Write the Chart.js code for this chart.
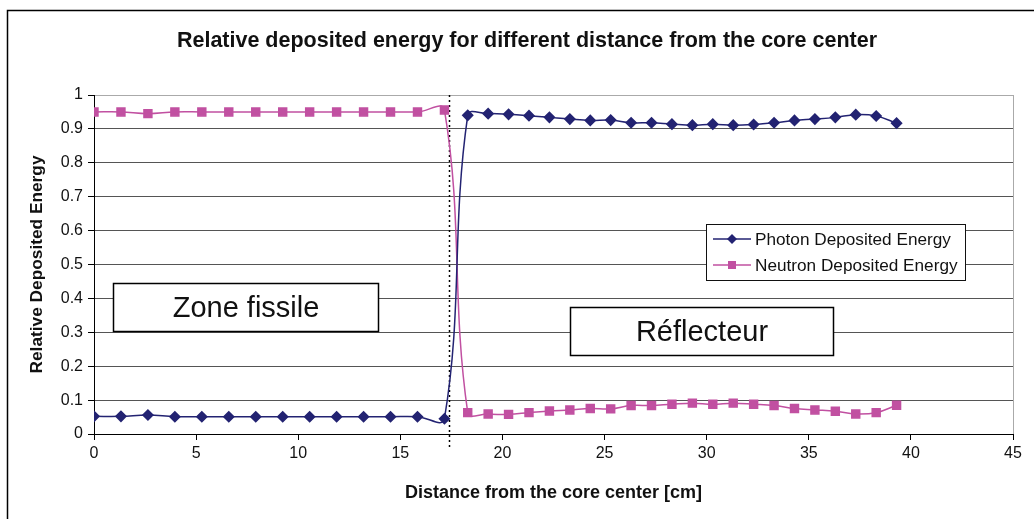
<!DOCTYPE html>
<html>
<head>
<meta charset="utf-8">
<script src="https://cdn.jsdelivr.net/npm/chart.js@4/dist/chart.umd.min.js"></script>
<style>
  html, body { margin: 0; padding: 0; background: #fff; }
  #wrap { width: 1034px; height: 519px; }
</style>
</head>
<body>
<div id="wrap"><canvas id="energyChart" width="1034" height="519"></canvas></div>
<script>
// distance from the core center [cm]
const distance = [
  0, 1.32, 2.64, 3.96, 5.28, 6.6, 7.92, 9.24, 10.56, 11.88, 13.2, 14.52, 15.84, 17.16,
  18.3, 19.3, 20.3, 21.3, 22.3, 23.3, 24.3, 25.3, 26.3, 27.3, 28.3, 29.3, 30.3,
  31.3, 32.3, 33.3, 34.3, 35.3, 36.3, 37.3, 38.3, 39.3,
];
const photonEnergy = [
  0.052, 0.052, 0.056, 0.051, 0.051, 0.051, 0.051, 0.051, 0.051, 0.051, 0.051, 0.051, 0.051, 0.045,
  0.94, 0.945, 0.943, 0.939, 0.934, 0.929, 0.925, 0.926, 0.918, 0.918, 0.914, 0.911, 0.914,
  0.911, 0.913, 0.918, 0.925, 0.929, 0.934, 0.942, 0.938, 0.917,
];
const neutronEnergy = [
  0.95, 0.95, 0.945, 0.95, 0.95, 0.95, 0.95, 0.95, 0.95, 0.95, 0.95, 0.95, 0.95, 0.956,
  0.063, 0.059, 0.058, 0.063, 0.068, 0.071, 0.075, 0.074, 0.084, 0.084, 0.088, 0.091, 0.088,
  0.091, 0.088, 0.084, 0.075, 0.071, 0.067, 0.059, 0.063, 0.085,
];
const seriesLabels = ['Photon Deposited Energy', 'Neutron Deposited Energy'];
const xTicks = [0, 5, 10, 15, 20, 25, 30, 35, 40, 45];
const yTicks = [0, 0.1, 0.2, 0.3, 0.4, 0.5, 0.6, 0.7, 0.8, 0.9, 1];
const coreBoundary = 17.4;
const chartTitle = 'Relative deposited energy for different distance from the core center';

const FONT = '"Liberation Sans", Arial, sans-serif';
const PHOTON = '#232372';
const NEUTRON = '#c150a1';

const toPoints = (values) => distance.map((x, i) => ({ x, y: values[i] }));

// outer frame, title, dotted core limit, region labels and legend box
const decorations = {
  id: 'decorations',
  beforeDraw(chart) {
    const { ctx } = chart;
    ctx.save();
    ctx.strokeStyle = '#000';
    ctx.lineWidth = 1.5;
    ctx.beginPath();
    ctx.moveTo(7.5, 530);
    ctx.lineTo(7.5, 10.5);
    ctx.lineTo(1040, 10.5);
    ctx.stroke();
    ctx.fillStyle = '#111';
    ctx.font = 'bold 21.5px ' + FONT;
    ctx.textAlign = 'center';
    ctx.textBaseline = 'middle';
    ctx.fillText(chartTitle, 527, 41);
    ctx.restore();
  },
  beforeDatasetsDraw(chart) {
    const { ctx, chartArea, scales } = chart;
    ctx.save();
    // right edge of plot area
    ctx.strokeStyle = '#aaaaaa';
    ctx.lineWidth = 1;
    ctx.beginPath();
    ctx.moveTo(chartArea.right + 0.5, chartArea.top);
    ctx.lineTo(chartArea.right + 0.5, chartArea.bottom);
    ctx.stroke();
    // dotted boundary
    const bx = Math.round(scales.x.getPixelForValue(coreBoundary)) + 0.5;
    ctx.strokeStyle = '#000';
    ctx.lineWidth = 1.5;
    ctx.setLineDash([2, 3]);
    ctx.beginPath();
    ctx.moveTo(bx, chartArea.top);
    ctx.lineTo(bx, chartArea.bottom + 13);
    ctx.stroke();
    ctx.restore();
  },
  afterDatasetsDraw(chart) {
    const { ctx, scales } = chart;
    const sx = scales.x, sy = scales.y;

    const textBox = (x0, y0, x1, y1, text) => {
      const l = Math.round(sx.getPixelForValue(x0)) + 0.5;
      const r = Math.round(sx.getPixelForValue(x1)) + 0.5;
      const t = Math.round(sy.getPixelForValue(y0)) + 0.5;
      const b = Math.round(sy.getPixelForValue(y1)) + 0.5;
      ctx.fillStyle = '#fff';
      ctx.fillRect(l, t, r - l, b - t);
      ctx.strokeStyle = '#000';
      ctx.lineWidth = 1.5;
      ctx.strokeRect(l, t, r - l, b - t);
      ctx.fillStyle = '#111';
      ctx.font = '29px ' + FONT;
      ctx.textAlign = 'center';
      ctx.textBaseline = 'middle';
      ctx.fillText(text, (l + r) / 2, (t + b) / 2 + 1);
    };

    ctx.save();
    textBox(0.93, 0.445, 13.9, 0.304, 'Zone fissile');
    textBox(23.3, 0.375, 36.17, 0.233, 'Réflecteur');

    // legend
    const lx = 706.5, ly = 224.5, lw = 259, lh = 56;
    ctx.fillStyle = '#fff';
    ctx.fillRect(lx, ly, lw, lh);
    ctx.strokeStyle = '#111';
    ctx.lineWidth = 1;
    ctx.strokeRect(lx, ly, lw, lh);
    chart.data.datasets.forEach((ds, i) => {
      const cy = 239 + i * 26;
      ctx.strokeStyle = ds.borderColor;
      ctx.lineWidth = 1.5;
      ctx.beginPath();
      ctx.moveTo(713, cy);
      ctx.lineTo(751, cy);
      ctx.stroke();
      ctx.fillStyle = ds.backgroundColor;
      ctx.beginPath();
      if (ds.pointStyle === 'rect') {
        ctx.rect(728, cy - 4, 8, 8);
      } else {
        ctx.moveTo(732, cy - 5);
        ctx.lineTo(737, cy);
        ctx.lineTo(732, cy + 5);
        ctx.lineTo(727, cy);
        ctx.closePath();
      }
      ctx.fill();
      ctx.fillStyle = '#111';
      ctx.font = '17.2px ' + FONT;
      ctx.textAlign = 'left';
      ctx.textBaseline = 'middle';
      ctx.fillText(ds.label, 755, cy + 1);
    });
    ctx.restore();
  },
};

const ctx = document.getElementById('energyChart').getContext('2d');
new Chart(ctx, {
  type: 'line',
  data: {
    datasets: [
      {
        label: seriesLabels[0],
        data: toPoints(photonEnergy),
        borderColor: PHOTON,
        backgroundColor: PHOTON,
        borderWidth: 1.5,
        pointStyle: 'rectRot',
        pointRadius: 5,
        tension: 0.4,
      },
      {
        label: seriesLabels[1],
        data: toPoints(neutronEnergy),
        borderColor: NEUTRON,
        backgroundColor: NEUTRON,
        borderWidth: 1.5,
        pointStyle: 'rect',
        pointRadius: 5.6,
        tension: 0.4,
      },
    ],
  },
  options: {
    responsive: false,
    animation: false,
    layout: { padding: { top: 95, left: 10, right: 21, bottom: 0 } },
    scales: {
      x: {
        type: 'linear',
        min: 0,
        max: 45,
        afterBuildTicks: (scale) => { scale.ticks = xTicks.map((v) => ({ value: v })); },
        afterFit: (scale) => { scale.height = 85; },
        grid: { drawOnChartArea: false, tickLength: 6, tickColor: '#000' },
        border: { color: '#000', width: 1 },
        ticks: { color: '#111', font: { family: FONT, size: 16 }, padding: 4, maxRotation: 0 },
        title: {
          display: true,
          text: 'Distance from the core center [cm]',
          color: '#111',
          font: { family: FONT, size: 18, weight: 'bold' },
          padding: { top: 0, bottom: 15 },
        },
      },
      y: {
        min: 0,
        max: 1,
        afterBuildTicks: (scale) => { scale.ticks = yTicks.map((v) => ({ value: v })); },
        afterFit: (scale) => { scale.width = 84; },
        grid: {
          color: (c) => (c.tick && c.tick.value === 1 ? '#aaaaaa' : '#555555'),
          tickColor: '#000',
          tickLength: 6,
        },
        border: { color: '#000', width: 1 },
        ticks: {
          color: '#111',
          font: { family: FONT, size: 16 },
          padding: 5,
          callback: (v) => String(Math.round(v * 10) / 10),
        },
        title: {
          display: true,
          text: 'Relative Deposited Energy',
          color: '#111',
          font: { family: FONT, size: 17.3, weight: 'bold' },
          padding: { top: 17, bottom: 0 },
        },
      },
    },
    plugins: {
      legend: { display: false },
      tooltip: { enabled: false },
      title: { display: false },
    },
  },
  plugins: [decorations],
});
</script>
</body>
</html>
